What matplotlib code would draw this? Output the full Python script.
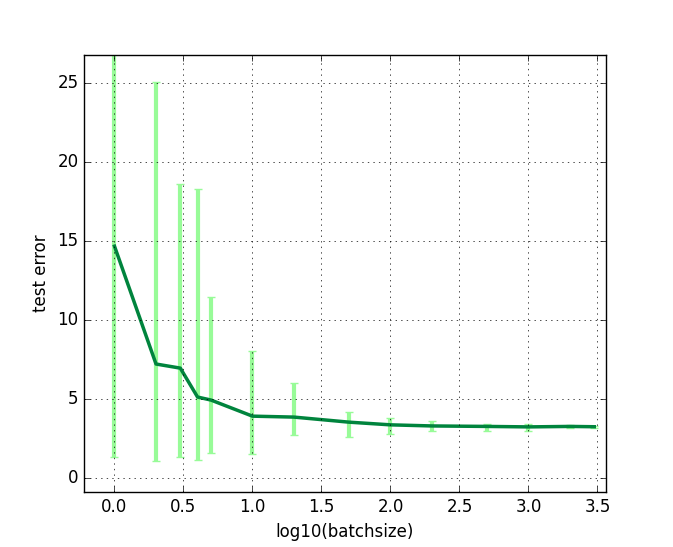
import numpy as np
import matplotlib
matplotlib.use("Agg")
import matplotlib.pyplot as plt

plt.style.use("classic")

batch_sizes = [1, 2, 3, 4, 5, 10, 20, 50, 100, 200, 500, 1000, 2000, 3000]
mean_error = [14.68, 7.22, 6.96, 5.13, 4.94, 3.92, 3.86, 3.54, 3.37, 3.30, 3.27, 3.24, 3.27, 3.25]
lower_bound = [1.33, 1.08, 1.33, 1.14, 1.58, 1.52, 2.72, 2.58, 2.77, 2.96, 3.00, 2.99, 3.17, 3.20]
upper_bound = [28.0, 25.1, 18.6, 18.3, 11.45, 8.04, 6.01, 4.20, 3.78, 3.63, 3.40, 3.44, 3.35, 3.30]

x = np.log10(batch_sizes)
mean = np.array(mean_error)
yerr = [mean - np.array(lower_bound), np.array(upper_bound) - mean]

fig = plt.figure(figsize=(6.73, 5.47), dpi=100, facecolor="white")
ax = fig.add_subplot(111)
fig.subplots_adjust(left=0.125, right=0.9, bottom=0.1, top=0.9)

ax.errorbar(x, mean, yerr=yerr, fmt="none", ecolor="#98fb98", elinewidth=3,
            capsize=3, capthick=1)
ax.plot(x, mean, color="#00843d", linewidth=2.5)

ax.set_xlim(-0.22, 3.56)
ax.set_ylim(-0.9, 26.8)
ax.set_xticks(np.arange(0, 3.51, 0.5))
ax.set_yticks(np.arange(0, 26, 5))
ax.grid(True)
ax.set_xlabel("log10(batchsize)")
ax.set_ylabel("test error")

fig.savefig("out.png", dpi=100, facecolor="white")
